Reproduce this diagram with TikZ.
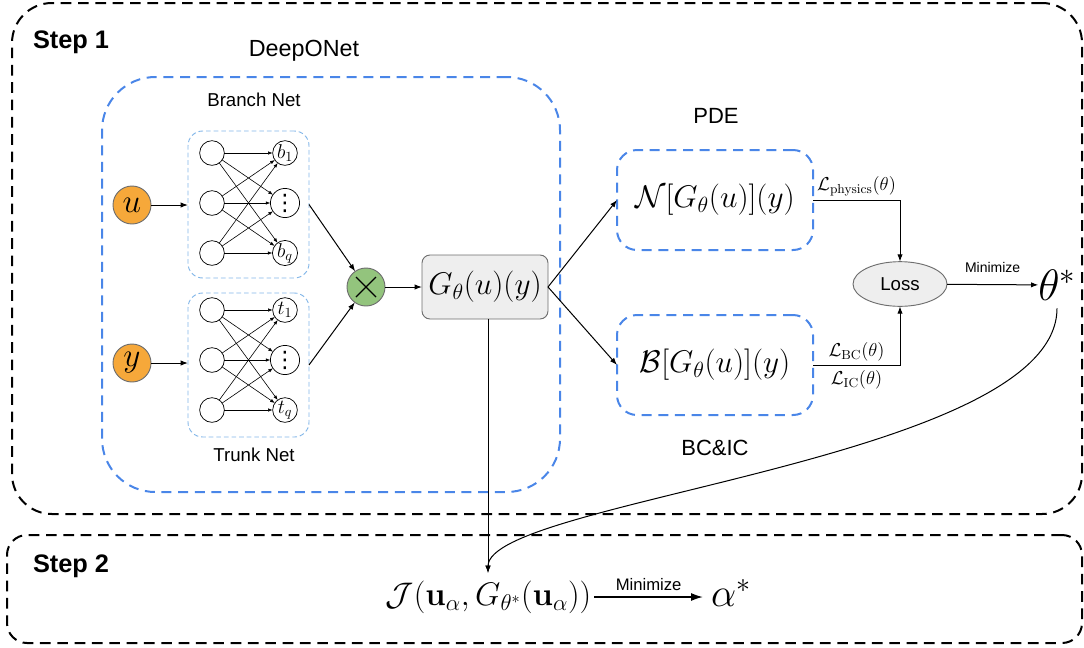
\documentclass[tikz,border=0pt]{standalone}
\usepackage{fix-cm}
\usepackage[no-math]{fontspec}
\newfontfamily\arial{Liberation Sans}
\newfontfamily\dejavu{DejaVu Sans}
\usepackage{amsmath}
\usetikzlibrary{arrows.meta,fit,calc,shapes.geometric}

\definecolor{netblue}{RGB}{74,134,232}
\definecolor{paleblue}{RGB}{130,182,232}
\definecolor{orangefill}{RGB}{246,168,58}
\definecolor{greenfill}{RGB}{147,196,125}
\definecolor{boxgray}{RGB}{238,238,238}
\definecolor{edgegray}{RGB}{110,110,110}

\newcommand\fsz[1]{\fontsize{#1}{#1}\selectfont}
% vertical ellipsis for the hidden output units
\newcommand\unitdots{{\dejavu\fsz{17}⋮}}

\begin{document}
\begin{tikzpicture}[x=0.75pt,y=-0.75pt,
  every node/.style={inner sep=0pt,outer sep=0pt},
  stepbox/.style={draw=black,line width=1.5pt,dash pattern=on 8pt off 5pt},
  netbox/.style={draw=netblue,line width=1.5pt,dash pattern=on 7.5pt off 5pt},
  subnet/.style={draw=paleblue,line width=0.7pt,dash pattern=on 3.5pt off 2.2pt,rounded corners=11pt},
  neuron/.style={circle,draw=black,line width=0.55pt,minimum size=18.5pt,fill=white},
  outneuron/.style={neuron,minimum size=18.5pt,font=\fsz{15}},
  inputnode/.style={circle,draw=edgegray,line width=0.7pt,fill=orangefill,minimum size=28.5pt,font=\fsz{25}},
  connector/.style={draw=black,line width=0.75pt,-{Latex[length=5.5pt,width=4pt]}},
  netedge/.style={draw=black,line width=0.45pt,-{Latex[length=3.5pt,width=2.6pt]}},
  sanslabel/.style={font=\arial\fsz{#1},anchor=base},
  mathbox/.style={font=\fsz{23.5}}
]
\useasboundingbox (0,0) rectangle (1084,647);

% ---- outer stage frames
\node[stepbox,rounded corners=30pt,fit={(12,3) (1082,514)}] (step1) {};
\node[stepbox,rounded corners=15pt,fit={(7,535) (1082,643)}] (step2) {};
\node[font=\arial\bfseries\fsz{19},anchor=base west] (s1lbl) at (33,48) {Step 1};
\node[font=\arial\bfseries\fsz{19},anchor=base west] (s2lbl) at (33,572) {Step 2};

% ---- DeepONet
\node[netbox,rounded corners=40pt,fit={(102,77) (560,492)}] (deeponet) {};
\node[sanslabel=17.5] (dlbl) at (304,56) {DeepONet};
\node[sanslabel=14] (blbl) at (254,106) {Branch Net};
\node[sanslabel=14] (tlbl) at (254,461) {Trunk Net};

\node[subnet,fit={(188,131) (309,278)}] (branch) {};
\node[subnet,fit={(188,293) (309,437)}] (trunk) {};

% branch layers
\foreach \i/\yy in {1/153,2/203,3/253}{
  \node[neuron] (bl\i) at (212,\yy) {};
}
\node[outneuron] (br1) at (285,153) {$b_1$};
\node[outneuron] (br2) at (285,203) {\unitdots};
\node[outneuron] (br3) at (285,253) {$b_q$};
% trunk layers
\foreach \i/\yy in {1/310,2/360,3/410}{
  \node[neuron] (tl\i) at (212,\yy) {};
}
\node[outneuron] (tr1) at (285,310) {$t_1$};
\node[outneuron] (tr2) at (285,360) {\unitdots};
\node[outneuron] (tr3) at (285,410) {$t_q$};

\foreach \a in {1,2,3}{
  \foreach \b in {1,2,3}{
    \draw[netedge] (bl\a) -- (br\b);
    \draw[netedge] (tl\a) -- (tr\b);
  }
}

% inputs
\node[inputnode] (uin) at (132,205) {$u$};
\node[inputnode] (yin) at (132,363) {$y$};
\draw[connector] (uin) -- (uin -| branch.west);
\draw[connector] (yin) -- (yin -| trunk.west);

% product node
\node[circle,draw=edgegray,line width=0.7pt,fill=greenfill,minimum size=28.5pt] (times) at (366,287) {};
\draw[line width=1pt] ([shift={(-10,-10)}]times.center) -- ([shift={(10,10)}]times.center);
\draw[line width=1pt] ([shift={(-10,10)}]times.center) -- ([shift={(10,-10)}]times.center);
\draw[connector] (branch.east) -- (times);
\draw[connector] (trunk.east) -- (times);

% operator output
\node[draw=edgegray,line width=0.7pt,fill=boxgray,rounded corners=6pt,fit={(422,255) (548,319)}] (G) {};
\node[mathbox] (Gtxt) at (G.center) {$G_\theta(u)(y)$};
\draw[connector] (times) -- (G);

% physics and boundary residuals
\node[netbox,rounded corners=15pt,fit={(617,150) (813,250)}] (pde) {};
\node[mathbox] (pdetxt) at (pde.center) {$\mathcal{N}[G_\theta(u)](y)$};
\node[netbox,rounded corners=15pt,fit={(617,315) (813,415)}] (bc) {};
\node[mathbox] (bctxt) at (bc.center) {$\mathcal{B}[G_\theta(u)](y)$};
\node[sanslabel=16.5] (pdelbl) at (716,123) {PDE};
\node[sanslabel=16.5] (bclbl) at (715,455) {BC\&IC};

\draw[connector] (G.east) -- (pde.west);
\draw[connector] (G.east) -- (bc.west);

% loss
\node[ellipse,draw=edgegray,line width=0.7pt,fill=boxgray,minimum width=70.5pt,minimum height=33.5pt,font=\arial\fsz{14}] (loss) at (900,284) {Loss};
\draw[connector] (pde.east) -| node[pos=0.25,above=3pt,font=\fsz{14}] (lphys) {$\mathcal{L}_{\mathrm{physics}}(\theta)$} (loss);
\draw[connector] (bc.east) -| node[pos=0.25,above=3pt,font=\fsz{14}] (lbc) {$\mathcal{L}_{\mathrm{BC}}(\theta)$}
                             node[pos=0.25,below=4pt,font=\fsz{14}] (lic) {$\mathcal{L}_{\mathrm{IC}}(\theta)$} (loss);

\node[font=\fsz{33}] (theta) at (1057,285) {$\theta^*$};
\draw[connector] (loss) -- node[above=9pt,font=\arial\fsz{10.5}] (min1) {Minimize} (theta);

% step 2
\node[font=\fsz{24.5}] (J) at (488.5,597) {$\mathcal{J}(\mathbf{u}_\alpha,G_{\theta^*}(\mathbf{u}_\alpha))$};
\coordinate (jtop) at (488,573);
\node[font=\fsz{30},anchor=west] (alpha) at (711,593) {$\alpha^*$};
\draw[connector] (G.south -| jtop) -- (jtop);
\draw[connector] ([yshift=-6pt]theta.south) .. controls (1057,460) and (488,500) .. (jtop);
\draw[draw=black,line width=1.2pt,-{Latex[length=9pt,width=6pt]}] (J.east) ++(3,0) -- node[above=5pt,font=\arial\fsz{12.5}] (min2) {Minimize} ([xshift=-6pt]alpha.west |- J.east);
\end{tikzpicture}
\end{document}
